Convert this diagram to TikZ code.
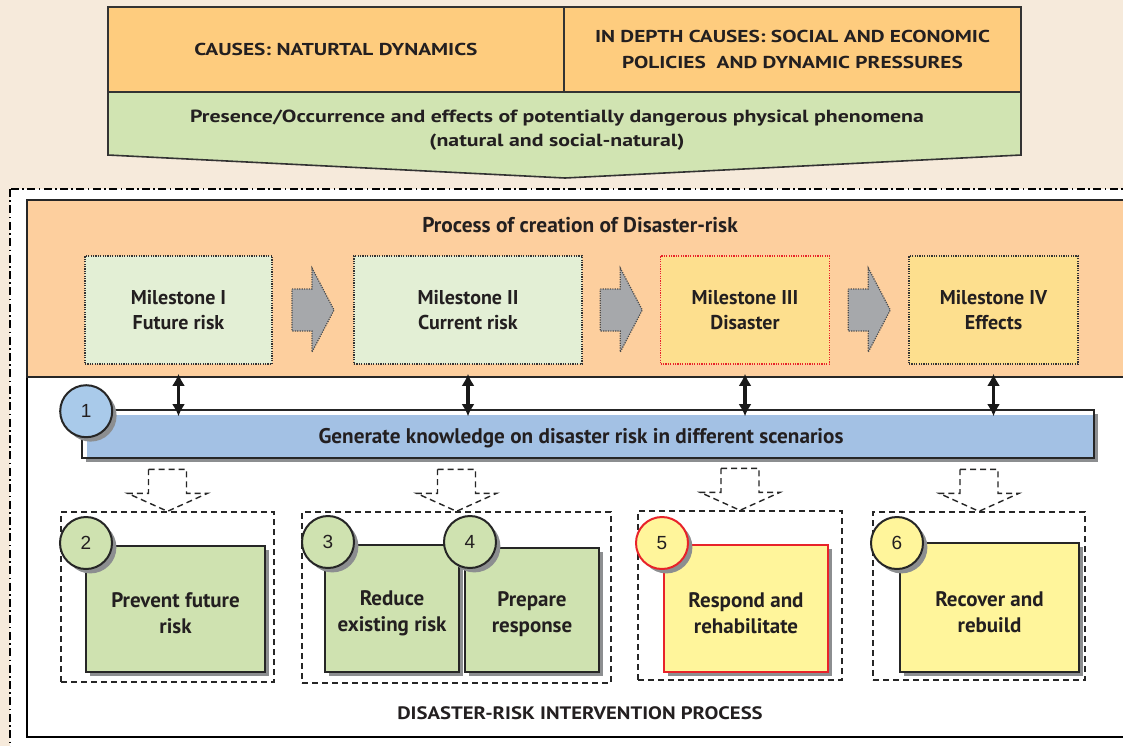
\documentclass[tikz,border=0pt]{standalone}
\usepackage{fontspec}
\setmainfont{PT Sans}
\newfontfamily\numfont{Liberation Sans}
\newfontfamily\widefont[FakeStretch=1.24]{PT Sans}
\newfontfamily\semiwidefont[FakeStretch=1.15]{PT Sans}
\usetikzlibrary{positioning,calc,arrows.meta,shadows}

\definecolor{bgcream}{HTML}{F6EADB}
\definecolor{causeorange}{HTML}{FECC7E}
\definecolor{phengreen}{HTML}{D1E4B2}
\definecolor{procorange}{HTML}{FDCF9E}
\definecolor{mgreen}{HTML}{E3EFD5}
\definecolor{myellow}{HTML}{FDDF8E}
\definecolor{arrowgray}{HTML}{A6A8AB}
\definecolor{barblue}{HTML}{A3C1E4}
\definecolor{cblue}{HTML}{A9CAEA}
\definecolor{boxgreen}{HTML}{CFE2B0}
\definecolor{boxyellow}{HTML}{FFF59B}
\definecolor{shadowgray}{HTML}{8C8E90}
\definecolor{riskred}{HTML}{E8232A}
\definecolor{txtdark}{HTML}{231F20}

\begin{document}
\begin{tikzpicture}[x=0.5pt, y=-0.5pt,
    every node/.style={inner sep=0pt, align=center, text=txtdark, font=\bfseries},
    causebox/.style={draw=black!80, line width=0.8pt, fill=causeorange, minimum height=42.5pt,
      font=\widefont\bfseries\fontsize{8.6}{13}\selectfont},
    milestone/.style={fill=mgreen, draw=black!80, line width=0.6pt, dash pattern=on 0.6pt off 0.6pt,
      minimum height=54pt, font=\bfseries\fontsize{10}{12.5}\selectfont},
    grayarrow/.style={fill=arrowgray, draw=black!70, line width=0.6pt, dash pattern=on 0.6pt off 0.6pt},
    linkarrow/.style={{Latex[length=6pt,width=6.5pt]}-{Latex[length=6pt,width=6.5pt]}, line width=1.6pt, black!90},
    groupbox/.style={draw=black!85, line width=0.7pt, dash pattern=on 3pt off 2pt},
    dasharrow/.style={draw=black!85, line width=0.7pt, dash pattern=on 3pt off 2pt},
    shadowed/.style={drop shadow={shadow xshift=2.2pt, shadow yshift=-2.2pt, fill=shadowgray, opacity=1}},
    taskbox/.style={shadowed, draw=black!85, line width=1pt, fill=boxgreen, minimum height=63pt,
      font=\bfseries\fontsize{10.5}{13}\selectfont, text height=25pt},
    numcircle/.style={shadowed, circle, draw=black!85, line width=1pt, fill=boxgreen, minimum size=26pt,
      font=\numfont\fontsize{9.5}{11}\selectfont}
  ]
  \path[use as bounding box, clip] (0,0) rectangle (1123,746);
  \fill[bgcream] (0,0) rectangle (1123,746);

  % causes and phenomena
  \fill[phengreen, draw=black!80, line width=0.8pt] (108,92) -- (1021,92) -- (1021,155) -- (565,178) -- (108,155) -- cycle;
  \node[causebox, minimum width=228pt] (causes) at (336,49.5) {CAUSES: NATURTAL DYNAMICS};
  \node[causebox, minimum width=228.5pt] (depth) at (792.5,49.5) {IN DEPTH CAUSES: SOCIAL AND ECONOMIC\\POLICIES~~AND DYNAMIC PRESSURES};
  \node[font=\widefont\bfseries\fontsize{8.8}{12}\selectfont] (phen) at (557,130)
    {Presence/Occurrence and effects of potentially dangerous physical phenomena\\(natural and social-natural)};

  % frames
  \draw[fill=white, line width=0.8pt, dash pattern=on 4pt off 1.7pt on 0.8pt off 1.7pt] (10,189) rectangle (1170,780);
  \draw[fill=white, line width=0.8pt] (27,200) rectangle (1133,737);
  \node[draw=black!85, line width=0.8pt, fill=procorange, minimum width=553pt, minimum height=88.5pt] (proc) at (580,288.5) {};
  \node[font=\bfseries\fontsize{10.7}{12}\selectfont] (proctitle) at ($(proc.north)+(0,26)$) {Process of creation of Disaster-risk};

  % milestones
  \node[milestone, minimum width=93.5pt] (m1) at (178.5,310) {Milestone I\\Future risk};
  \node[milestone, minimum width=114pt] (m2) at (468,310) {Milestone II\\Current risk};
  \node[milestone, fill=myellow, draw=riskred, minimum width=84.5pt] (m3) at (745,310) {Milestone III\\Disaster};
  \node[milestone, fill=myellow, minimum width=84.5pt] (m4) at (993.5,310) {Milestone IV\\Effects};
  \foreach \a/\b in {m1/m2, m2/m3, m3/m4}
    \draw[grayarrow] ($(\a.east)!0.5!(\b.west)+(-21,-21)$) -- ++(20,0) -- ++(0,-21) -- ++(22,42)
      -- ++(-22,42) -- ++(0,-21) -- ++(-20,0) -- cycle;

  % knowledge bar
  \node[shadowed, draw=black!85, line width=0.8pt, fill=barblue, minimum width=506pt, minimum height=24pt] (gen) at (588,434) {};
  \draw[white, line width=2pt] ($(gen.south west)+(3.5,-2)$) -- ($(gen.north west)+(3.5,3.5)$) -- ($(gen.north east)+(-2,3.5)$);
  \node[font=\bfseries\fontsize{10.6}{12}\selectfont] (gentext) at ($(gen.center)+(-7,4)$) {Generate knowledge on disaster risk in different scenarios};
  \node[numcircle, fill=cblue] (c1) at ($(gen.north west)+(5,2)$) {1};
  \foreach \m in {m1,m2,m3,m4}
    \draw[linkarrow, shorten <=-2pt, shorten >=-3.5pt] (\m.south |- proc.south) -- (\m.south |- gen.north);

  % interventions
  \node[groupbox, minimum width=106.5pt, minimum height=85pt] (g1) at (167.5,597) {};
  \node[groupbox, minimum width=154.5pt, minimum height=85.5pt] (g2) at (456.5,597.5) {};
  \node[groupbox, minimum width=102pt, minimum height=84.5pt] (g3) at (740,595.5) {};
  \node[groupbox, minimum width=106pt, minimum height=84pt] (g4) at (979,596) {};
  \foreach \g in {g1,g2,g3,g4}
    \draw[dasharrow] ($(\g.north)+(-19,-42)$) -- ++(38,0) -- ++(0,24) -- ++(21,0) -- (\g.north)
      -- ++(-40,-18) -- ++(21,0) -- cycle;

  \node[taskbox, minimum width=89.5pt] (b2) at (175.5,609) {Prevent future\\risk};
  \node[taskbox, minimum width=67pt, minimum height=63.5pt] (b3) at (392,608.5) {Reduce\\existing risk};
  \node[taskbox, minimum width=67pt, minimum height=62pt] (b4) at (532,610) {Prepare\\response};
  \node[taskbox, fill=boxyellow, draw=riskred, minimum width=82pt, minimum height=63.5pt] (b5) at (746,608.5) {Respond and\\rehabilitate};
  \node[taskbox, fill=boxyellow, minimum width=89.5pt, minimum height=64.5pt] (b6) at (989.5,607.5) {Recover and\\rebuild};

  \node[numcircle] (c2) at ($(b2.north west)+(1,-2)$) {2};
  \node[numcircle] (c3) at ($(b3.north west)+(4,-2)$) {3};
  \node[numcircle] (c4) at ($(b4.north west)+(6,-5)$) {4};
  \node[numcircle, fill=boxyellow, draw=riskred] (c5) at ($(b5.north west)+(-1,-1)$) {5};
  \node[numcircle, fill=boxyellow] (c6) at ($(b6.north west)+(-2,1)$) {6};

  \node[font=\semiwidefont\bfseries\fontsize{9}{11}\selectfont] (intervention) at (580,713) {DISASTER-RISK INTERVENTION PROCESS};
\end{tikzpicture}
\end{document}
